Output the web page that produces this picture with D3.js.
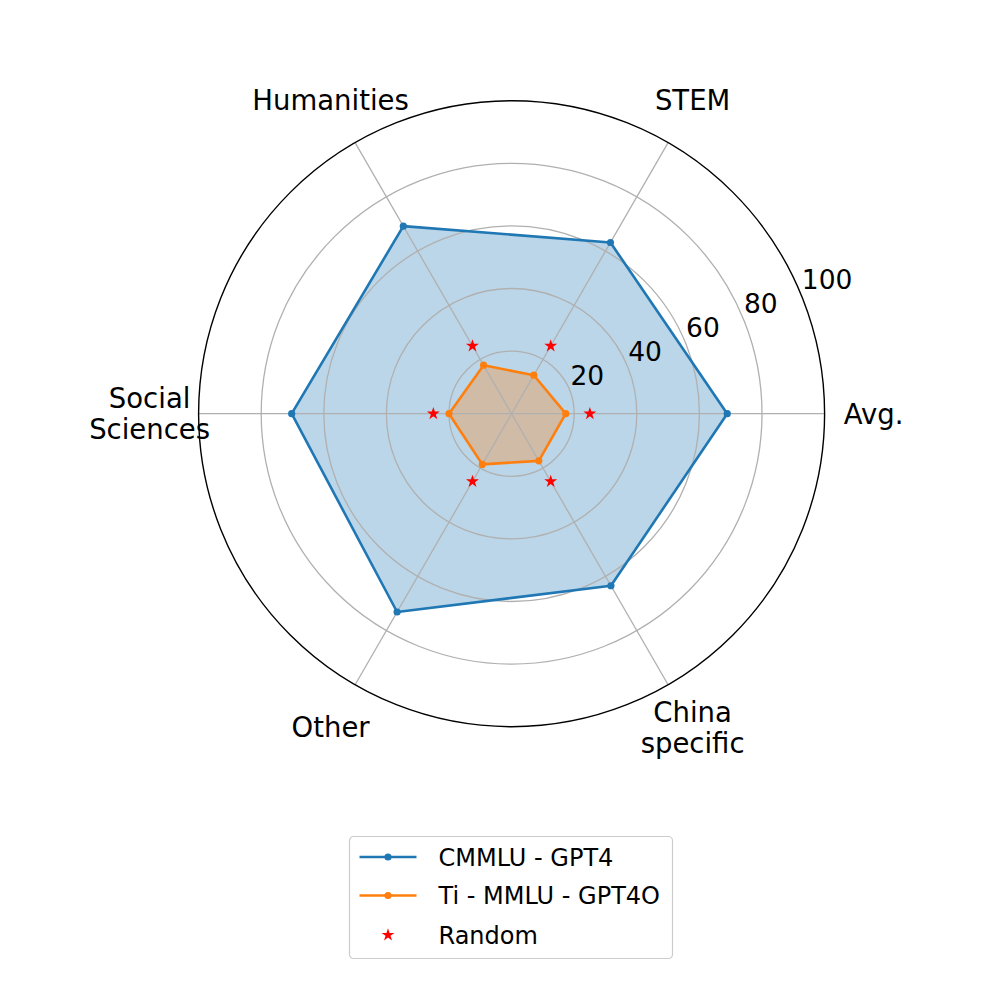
<!DOCTYPE html>
<html>
<head>
<meta charset="utf-8">
<script src="https://cdn.jsdelivr.net/npm/d3@7"></script>
<style>
  html, body { margin: 0; padding: 0; background: #fff; }
  svg { display: block; font-family: "DejaVu Sans", sans-serif; }
</style>
</head>
<body>
<svg id="chart" width="997" height="997"></svg>
<script>
const categories = ["Avg.", "STEM", "Humanities", "Social\nSciences", "Other", "China\nspecific"];
const cmmluGpt4 = [68.89, 63.16, 69.19, 70.26, 73.16, 63.47];
const tiMmluGpt4o = [17.3, 14.2, 17.9, 20.0, 18.7, 17.4];
const randomBase = [25, 25, 25, 25, 25, 25];
const rTicks = [20, 40, 60, 80, 100];
const seriesNames = ["CMMLU - GPT4", "Ti - MMLU - GPT4O", "Random"];

const W = 997, H = 997;
const cx = 511.6, cy = 413.7, R = 313;
const svg = d3.select("#chart");
const g = svg.append("g").attr("transform", `translate(${cx},${cy})`);

const r = d3.scaleLinear().domain([0, 100]).range([0, R]);
const n = categories.length;
const theta = d3.scaleLinear().domain([0, n]).range([0, 2 * Math.PI]);
const d3ang = i => Math.PI / 2 - theta(i);
const px = (i, v) => r(v) * Math.cos(theta(i));
const py = (i, v) => -r(v) * Math.sin(theta(i));

const blue = "#1f77b4", orange = "#ff7f0e";

const area = d3.areaRadial()
  .angle((d, i) => d3ang(i))
  .innerRadius(0)
  .outerRadius(d => r(d))
  .curve(d3.curveLinearClosed);
const line = d3.lineRadial()
  .angle((d, i) => d3ang(i))
  .radius(d => r(d))
  .curve(d3.curveLinearClosed);

g.append("path").datum(cmmluGpt4).attr("d", area).attr("fill", blue).attr("fill-opacity", 0.3);
g.append("path").datum(tiMmluGpt4o).attr("d", area).attr("fill", orange).attr("fill-opacity", 0.3);

g.selectAll("circle.grid").data(rTicks.slice(0, -1)).enter().append("circle")
  .attr("r", d => r(d)).attr("fill", "none").attr("stroke", "#b0b0b0").attr("stroke-width", 1.3);
g.selectAll("line.spoke").data(d3.range(n)).enter().append("line")
  .attr("x1", 0).attr("y1", 0)
  .attr("x2", i => px(i, 100)).attr("y2", i => py(i, 100))
  .attr("stroke", "#b0b0b0").attr("stroke-width", 1.3);
g.append("circle").attr("r", r(100)).attr("fill", "none").attr("stroke", "#000").attr("stroke-width", 1.4);

function drawSeries(vals, color) {
  g.append("path").datum(vals).attr("d", line).attr("fill", "none")
    .attr("stroke", color).attr("stroke-width", 2.6).attr("stroke-linejoin", "round");
  g.selectAll(null).data(vals).enter().append("circle")
    .attr("cx", (d, i) => px(i, d)).attr("cy", (d, i) => py(i, d))
    .attr("r", 3.6).attr("fill", color);
}
drawSeries(cmmluGpt4, blue);
drawSeries(tiMmluGpt4o, orange);

const star = d3.symbol().type(d3.symbolStar).size(52);
g.selectAll(null).data(randomBase).enter().append("path")
  .attr("d", star)
  .attr("transform", (d, i) => `translate(${px(i, d)},${py(i, d)})`)
  .attr("fill", "red");

const rlabAng = 22.5 * Math.PI / 180;
g.selectAll(null).data(rTicks).enter().append("text")
  .attr("x", d => r(d) * Math.cos(rlabAng) + 1)
  .attr("y", d => -r(d) * Math.sin(rlabAng) - 5)
  .attr("text-anchor", "start")
  .attr("font-size", 26.5)
  .attr("fill", "#000")
  .text(d => d);

const labR = R + 49;
const lineH = 31;
categories.forEach((c, i) => {
  const lines = c.split("\n");
  const x = labR * Math.cos(theta(i));
  const y = -labR * Math.sin(theta(i));
  const t = g.append("text").attr("text-anchor", "middle").attr("font-size", 27.5).attr("fill", "#000");
  lines.forEach((ln, k) => {
    t.append("tspan").attr("x", x)
      .attr("y", y + (k - (lines.length - 1) / 2) * lineH)
      .attr("dy", "0.36em")
      .text(ln);
  });
});

const lg = svg.append("g").attr("transform", "translate(349.5,836.5)");
lg.append("rect").attr("width", 323).attr("height", 122).attr("rx", 4).attr("ry", 4)
  .attr("fill", "#fff").attr("fill-opacity", 0.8).attr("stroke", "#cccccc").attr("stroke-width", 1.2);
const rowY = [20.5, 59, 98.5];
const colors = [blue, orange, "red"];
seriesNames.forEach((name, k) => {
  const y = rowY[k];
  if (k < 2) {
    lg.append("line").attr("x1", 10).attr("x2", 67).attr("y1", y).attr("y2", y)
      .attr("stroke", colors[k]).attr("stroke-width", 2.6);
    lg.append("circle").attr("cx", 38.5).attr("cy", y).attr("r", 3.6).attr("fill", colors[k]);
  } else {
    lg.append("path").attr("d", star).attr("transform", `translate(38.5,${y})`).attr("fill", "red");
  }
  lg.append("text").attr("x", 89).attr("y", y).attr("dy", "0.36em")
    .attr("font-size", 24).attr("fill", "#000").text(name);
});
</script>
</body>
</html>
